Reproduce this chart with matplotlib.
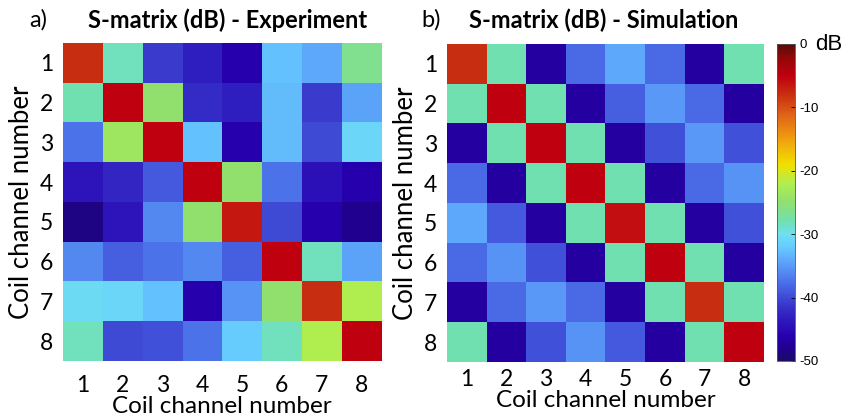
import numpy as np
import matplotlib as mpl
mpl.use('Agg')
from matplotlib import pyplot as plt
from matplotlib.colors import LinearSegmentedColormap, Normalize

plt.rcParams['font.family'] = ['Lato', 'DejaVu Sans']

#------------------- Data ----------------------
channels = [1, 2, 3, 4, 5, 6, 7, 8]

s_experiment = [
    [-8.0, -28.5, -41.0, -43.0, -46.0, -32.5, -34.0, -26.5],
    [-28.0, -5.0, -25.0, -42.0, -43.0, -33.0, -41.0, -34.5],
    [-37.5, -23.5, -5.0, -32.5, -46.0, -33.0, -40.0, -31.0],
    [-44.0, -42.5, -39.0, -5.0, -25.0, -37.5, -44.5, -46.0],
    [-48.5, -44.0, -36.0, -25.0, -6.5, -40.0, -46.0, -48.0],
    [-36.0, -38.5, -37.5, -36.0, -38.5, -5.0, -28.5, -34.5],
    [-30.5, -31.0, -32.5, -46.0, -35.5, -25.0, -8.0, -22.0],
    [-28.5, -40.0, -39.5, -37.5, -32.0, -28.5, -22.0, -5.0],
]

s_simulation = [
    [-8.0, -28.0, -47.0, -38.0, -34.0, -38.0, -47.0, -28.0],
    [-28.0, -5.0, -28.0, -47.0, -38.5, -35.0, -38.0, -47.0],
    [-47.0, -28.0, -5.0, -28.0, -47.0, -39.5, -35.0, -39.5],
    [-38.0, -47.0, -28.0, -5.0, -28.0, -47.0, -38.0, -35.5],
    [-34.0, -39.0, -47.0, -28.0, -6.0, -28.0, -47.0, -39.5],
    [-38.0, -35.5, -39.5, -47.0, -28.0, -5.0, -28.0, -47.0],
    [-47.0, -38.0, -35.0, -38.0, -47.0, -28.0, -8.0, -28.0],
    [-28.0, -47.0, -39.5, -35.5, -39.0, -47.0, -28.0, -5.0],
]

cbar_ticks = [0, -10, -20, -30, -40, -50]

#------------------- Colormap (jet-like) ----------------------
vmin, vmax = -50, 0
stops = [
    (-50, '#1c0a64'), (-48, '#200090'), (-46, '#2800b0'), (-43, '#3020c0'),
    (-41, '#3a3acc'), (-38, '#4a6ae6'), (-35, '#5a9af8'), (-32, '#66ccff'),
    (-30, '#70e0f0'), (-28, '#70e0b0'), (-25, '#90e070'), (-22, '#b0ee50'),
    (-19, '#f0e000'), (-15, '#f0a010'), (-11, '#e06018'), (-8, '#c83010'),
    (-5, '#c00010'), (-2, '#900808'), (0, '#5a0a0a'),
]
cmap = LinearSegmentedColormap.from_list(
    'sjet', [((v - vmin) / (vmax - vmin), c) for v, c in stops])
norm = Normalize(vmin=vmin, vmax=vmax)

#--------------------- PLOTs ------------------------
fig = plt.figure(figsize=(8.46, 4.2), dpi=100)
ax_a = fig.add_axes([0.0745, 0.1405, 0.376, 0.757])
ax_b = fig.add_axes([0.5284, 0.138, 0.3747, 0.757])
cax = fig.add_axes([0.9185, 0.1405, 0.0213, 0.755])

def draw_matrix(ax, data, xpad):
    im = ax.imshow(np.array(data), cmap=cmap, norm=norm, aspect='auto',
                   interpolation='nearest')
    ax.set_xticks(range(8))
    ax.set_yticks(range(8))
    ax.set_xticklabels(channels, fontsize=16.5)
    ax.set_yticklabels(channels, fontsize=16.5)
    ax.tick_params(axis='x', length=0, pad=xpad)
    ax.tick_params(axis='y', length=0, pad=7)
    for s in ax.spines.values():
        s.set_visible(False)
    ax.set_xlabel('Coil channel number', fontsize=17.5, labelpad=0)
    ax.set_ylabel('Coil channel number', fontsize=18.5, labelpad=4)
    return im

im = draw_matrix(ax_a, s_experiment, 10)
draw_matrix(ax_b, s_simulation, 5)

fig.text(0.035, 0.952, 'a)', fontsize=17, va='center', ha='left')
fig.text(0.269, 0.952, 'S-matrix (dB) - Experiment', fontsize=17,
         fontweight='bold', va='center', ha='center')
fig.text(0.498, 0.952, 'b)', fontsize=17, va='center', ha='left')
fig.text(0.713, 0.952, 'S-matrix (dB) - Simulation', fontsize=17,
         fontweight='bold', va='center', ha='center')

cb = fig.colorbar(im, cax=cax, ticks=cbar_ticks)
cb.outline.set_linewidth(0.6)
cb.outline.set_edgecolor('#555555')
cax.tick_params(direction='in', length=3, width=0.6, pad=3,
                labelsize=9.5, labelfontfamily='Liberation Sans')
cax.set_yticklabels([str(t) for t in cbar_ticks])
fig.text(0.963, 0.895, 'dB', fontsize=16, family='Liberation Sans',
         va='center', ha='left')

plt.savefig('out.png', dpi=100)
